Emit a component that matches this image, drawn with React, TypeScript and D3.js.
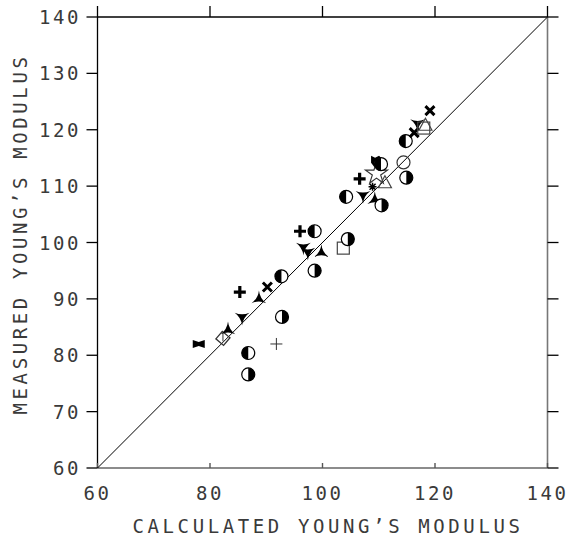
import React from "react";
import * as d3 from "d3";

// data: calculated vs measured Young's modulus
const calcVals = [
  78.0, 82.3, 83.2, 85.7, 85.3, 88.7, 90.2, 86.8, 86.8, 91.8,
  92.8, 92.7, 96.0, 98.6, 96.6, 97.4, 99.8, 103.7, 104.5, 98.6,
  104.2, 107.2, 106.6, 108.9, 109.3, 110.5, 109.6, 109.7, 110.4, 111.1,
  114.4, 114.9, 114.8, 116.3, 116.9, 118.0, 118.3, 119.1,
];
const measVals = [
  82.0, 83.0, 84.5, 86.8, 91.2, 90.0, 92.1, 80.4, 76.6, 82.0,
  86.8, 94.0, 102.0, 102.0, 99.2, 98.3, 98.2, 99.0, 100.6, 95.0,
  108.1, 108.4, 111.3, 109.9, 107.6, 106.6, 112.2, 114.5, 113.9, 110.6,
  114.2, 111.5, 118.0, 119.5, 121.1, 120.3, 120.8, 123.4,
];
const markerTypes = [
  "bowtie", "diamond", "triUp", "triDown", "plusBold", "triUp", "xBold", "halfL", "halfR", "plus",
  "halfR", "halfL", "plusBold", "halfL", "triDown", "triDown", "triUp", "square", "halfR", "halfR",
  "halfL", "triDown", "plusBold", "asterisk", "triUp", "halfR", "star", "blob", "halfL", "triangle",
  "circle", "halfR", "halfL", "xBold", "triDown", "square", "triangle", "xBold",
];

const xTicks = [60, 80, 100, 120, 140];
const yTicks = [60, 70, 80, 90, 100, 110, 120, 130, 140];
const xTitle = "CALCULATED YOUNG\u2019S MODULUS";
const yTitle = "MEASURED YOUNG\u2019S MODULUS";

const W = 568;
const H = 539;
const x = d3.scaleLinear().domain([60, 140]).range([97.5, 547.5]);
const y = d3.scaleLinear().domain([60, 140]).range([468, 17]);

const font = "'DejaVu Sans Mono', 'Liberation Mono', monospace";
const textColor = "#3a3a3a";

// three-pointed shape with slightly hollow sides
function concaveTri(r: number, up: boolean) {
  const pts = [-90, 30, 150].map((a) => {
    const t = (a * Math.PI) / 180;
    return [r * Math.cos(t), (up ? 1 : -1) * r * Math.sin(t)];
  });
  const p = d3.path();
  p.moveTo(pts[0][0], pts[0][1]);
  for (let i = 1; i <= 3; i++) {
    const a = pts[i - 1];
    const q = pts[i % 3];
    p.quadraticCurveTo((a[0] + q[0]) * 0.12, (a[1] + q[1]) * 0.12, q[0], q[1]);
  }
  p.closePath();
  return p.toString();
}

function Marker({ type }: { type: string }) {
  const r = 6.5;
  switch (type) {
    case "bowtie":
      return <path d="M-6,-4 L0,-2 L6,-4 L6,4 L0,2 L-6,4 Z" fill="#000" />;
    case "diamond":
      return (
        <g>
          <rect x={-5} y={-5} width={10} height={10} transform="rotate(40)" fill="none" stroke="#333" strokeWidth={1.3} />
          <line x1={0} y1={-6} x2={0} y2={3} stroke="#333" strokeWidth={1} />
        </g>
      );
    case "triUp":
      return <path d={concaveTri(8.5, true)} fill="#000" />;
    case "triDown":
      return <path d={concaveTri(8.5, false)} fill="#000" />;
    case "plusBold":
      return <path d="M-6,0 H6 M0,-6 V6" stroke="#000" strokeWidth={3.2} fill="none" />;
    case "xBold":
      return <path d="M-4.5,-4.5 L4.5,4.5 M-4.5,4.5 L4.5,-4.5" stroke="#000" strokeWidth={3} fill="none" />;
    case "plus":
      return <path d="M-6,0 H6 M0,-6 V6" stroke="#333" strokeWidth={1} fill="none" />;
    case "halfL":
    case "halfR": {
      const left = type === "halfL";
      const p = d3.path();
      p.moveTo(0, -r);
      p.arc(0, 0, r, -Math.PI / 2, Math.PI / 2, left);
      p.closePath();
      return (
        <g>
          <circle r={r} fill="#fff" stroke="#000" strokeWidth={1.2} />
          <path d={p.toString()} fill="#000" />
        </g>
      );
    }
    case "circle":
      return <circle r={r} fill="none" stroke="#333" strokeWidth={1.2} />;
    case "square":
      return <rect x={-6} y={-6} width={12} height={12} fill="none" stroke="#444" strokeWidth={1.2} />;
    case "triangle":
      return <path d="M0,-7 L6.5,5 L-6.5,5 Z" fill="none" stroke="#444" strokeWidth={1.2} />;
    case "star": {
      const s = d3.symbol().type(d3.symbolStar).size(150)();
      return <path d={s || ""} fill="none" stroke="#333" strokeWidth={1.2} />;
    }
    case "asterisk":
      return <path d="M-4,0 H4 M0,-4 V4 M-3,-3 L3,3 M-3,3 L3,-3" stroke="#000" strokeWidth={1.5} fill="none" />;
    case "blob":
      return <path d="M-6,-5 L-2,-3 L2,-5 L5,-2 L6,3 L2,6 L-3,6 L-6,2 Z" fill="#000" />;
    default:
      return null;
  }
}

export default function App() {
  const [x0, x1] = x.range();
  const [y0, y1] = y.range();
  const tickLen = 11;
  return (
    <svg width={W} height={H} style={{ position: "absolute", left: 0, top: 0, background: "#fff" }}>
      <rect width={W} height={H} fill="#fff" />
      {/* frame */}
      <line x1={x0} x2={x1} y1={y1} y2={y1} stroke="#000" strokeWidth={1.3} />
      <line x1={x0} x2={x0} y1={y1} y2={y0} stroke="#000" strokeWidth={1.3} />
      <line x1={x1} x2={x1} y1={y1} y2={y0} stroke="#777" strokeWidth={1.6} />
      <line x1={x0} x2={x1} y1={y0} y2={y0} stroke="#666" strokeWidth={1.5} />

      {/* x ticks */}
      {xTicks.map((t) => (
        <g key={"xt" + t}>
          <line x1={x(t)} x2={x(t)} y1={y1} y2={y1 - tickLen} stroke="#000" strokeWidth={1.3} />
          <line x1={x(t)} x2={x(t)} y1={y0} y2={y0 - 5} stroke="#555" strokeWidth={1.4} />
          <text x={x(t)} y={500} textAnchor="middle" fontFamily={font} fontSize={19} letterSpacing={2.6} fill={textColor}>
            {t}
          </text>
        </g>
      ))}
      {/* y ticks */}
      {yTicks.map((t) => (
        <g key={"yt" + t}>
          <line x1={x0} x2={x0 - tickLen} y1={y(t)} y2={y(t)} stroke="#000" strokeWidth={1.3} />
          <line x1={x1} x2={x1 + tickLen} y1={y(t)} y2={y(t)} stroke="#000" strokeWidth={1.3} />
          <text x={81} y={y(t) + 7} textAnchor="end" fontFamily={font} fontSize={19} letterSpacing={2.6} fill={textColor}>
            {t}
          </text>
        </g>
      ))}

      {/* identity line */}
      <line x1={x(60)} y1={y(60)} x2={x(140)} y2={y(140)} stroke="#000" strokeWidth={1} />

      {/* points */}
      {calcVals.map((c, i) => (
        <g key={"p" + i} transform={`translate(${x(c)},${y(measVals[i])})`}>
          <Marker type={markerTypes[i]} />
        </g>
      ))}

      {/* titles */}
      <text x={328} y={533} textAnchor="middle" fontFamily={font} fontSize={19} letterSpacing={3.6} fill={textColor}>
        {xTitle}
      </text>
      <text
        transform="translate(27,234) rotate(-90)"
        textAnchor="middle"
        fontFamily={font}
        fontSize={19}
        letterSpacing={3.6}
        fill={textColor}
      >
        {yTitle}
      </text>
    </svg>
  );
}
